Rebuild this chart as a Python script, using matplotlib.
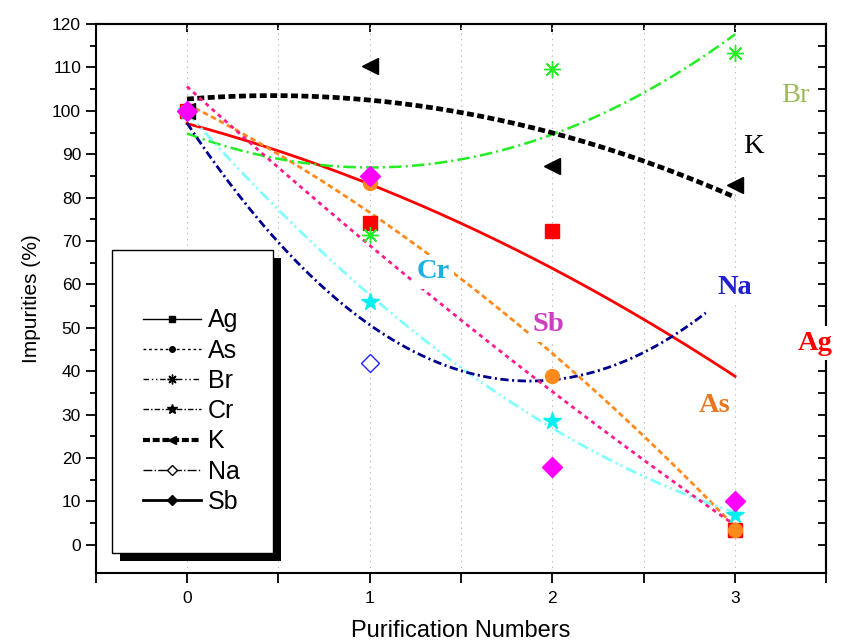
import numpy as np
import matplotlib
matplotlib.use("Agg")
import matplotlib.pyplot as plt
from matplotlib.lines import Line2D
from matplotlib.patches import Rectangle

plt.rcParams['font.family'] = ['Liberation Sans', 'DejaVu Sans']
plt.rcParams['lines.scale_dashes'] = False

runs = [0, 1, 2, 3]

# measured impurity levels (%) after each purification
ag = [100, 74.2, 72.4, 3.5]
as_ = [100, 83.3, 38.9, 3.5]
br = [100, 71.4, 109.7, 113.3]
cr = [100, 56.0, 28.6, 6.9]
k = [100, 110.3, 87.3, 82.9]
na = [100, 41.9]
sb = [100, 85.0, 18.0, 10.1]

# polynomial trend curves, values read at each run
ag_fit = [97.0, 83.3, 63.5, 38.9]
as_fit = [101.6, 76.5, 44.2, 4.1]
br_fit = [94.9, 86.6, 94.9, 117.5]
cr_fit = [99.5, 58.0, 26.5, 7.6]
k_fit = [102.7, 102.5, 94.9, 80.1]
na_fit = [97.2, 50.7, 38.0]
sb_fit = [105.5, 69.3, 35.0, 4.6]

# name, data, fit, fit end, line colour, style, width, marker colour, marker, size
series = [
    ("Ag", ag, ag_fit, 3.0, "#FF0000", "-", 2.0, "#FF0000", "s", 10),
    ("As", as_, as_fit, 3.0, "#FF8A1C", (0, (4, 2.5)), 2.0, "#FF8A1C", "o", 10),
    ("Br", br, br_fit, 3.0, "#22EE22", (0, (9, 3, 1.5, 3)), 1.8, "#22EE22", (8, 2, 0), 12),
    ("Cr", cr, cr_fit, 3.0, "#80FFFF", (0, (8, 3, 1.5, 2.5, 1.5, 3)), 2.0, "#00F0F0", "*", 13),
    ("K", k, k_fit, 3.0, "#000000", (0, (5, 2.5)), 3.4, "#000000", "<", 11),
    ("Na", na, na_fit, 2.84, "#000090", (0, (6, 2.5, 1.5, 2.5)), 2.0, "#2222FF", "D", 9),
    ("Sb", sb, sb_fit, 3.0, "#FF1A8C", (0, (3, 3)), 2.0, "#FF00FF", "D", 10),
]

fig = plt.figure(figsize=(8.49, 6.44), dpi=100)
ax = fig.add_axes([0.1126, 0.1102, 0.8608, 0.8525])

for name, vals, fit, end, lc, ls, lw, mc, mk, ms in series:
    xs = np.arange(len(fit))
    coef = np.polyfit(xs, fit, 2)
    xx = np.linspace(0, end, 200)
    ax.plot(xx, np.polyval(coef, xx), color=lc, ls=ls, lw=lw, zorder=2)

for name, vals, fit, end, lc, ls, lw, mc, mk, ms in series:
    xs = runs[:len(vals)]
    if name == "Na":
        ax.plot(xs, vals, ls="none", marker=mk, ms=ms, mfc="white", mec=mc, mew=1, zorder=3)
    elif name == "Br":
        ax.plot(xs, vals, ls="none", marker=mk, ms=ms, mec=mc, mew=1, zorder=3)
    else:
        ax.plot(xs, vals, ls="none", marker=mk, ms=ms, color=mc, mec=mc, zorder=3)

ax.set_xlim(-0.5, 3.5)
ax.set_ylim(-6.5, 120)
ax.set_xticks(runs)
ax.set_xticks([-0.5, 0.5, 1.5, 2.5, 3.5], minor=True)
ax.set_yticks(range(0, 121, 10))
ax.set_yticks(range(5, 120, 10), minor=True)
ax.tick_params(which="both", direction="out", width=1.3, labelsize=12.5)
ax.tick_params(axis="y", which="major", length=7)
ax.tick_params(axis="y", which="minor", length=4)
ax.tick_params(axis="x", which="both", length=7, pad=6)
ax.grid(axis="x", which="both", ls=(0, (1, 3)), color="#bdbdbd", lw=0.8)
ax.set_axisbelow(True)
for sp in ax.spines.values():
    sp.set_linewidth(1.5)

top = ax.secondary_xaxis("top")
top.set_xticks(runs)
top.set_xticks([0.5, 1.5, 2.5], minor=True)
top.tick_params(which="both", direction="in", labeltop=False, width=1.3)
top.tick_params(which="major", length=6)
top.tick_params(which="minor", length=4)
top.spines["top"].set_linewidth(1.5)

right = ax.secondary_yaxis("right")
right.set_yticks(range(0, 121, 5))
right.tick_params(direction="in", labelright=False, length=6, width=1.3)
right.spines["right"].set_linewidth(1.5)

ax.set_xlabel("Purification Numbers", fontsize=17, labelpad=10)
ax.set_ylabel("Impurities (%)", fontsize=15, labelpad=8)

# element labels next to curves (figure-level so they sit over the frame)
labels = [
    ("Br", 3.33, 103.6, "#9BBB59", "normal"),
    ("K", 3.10, 91.7, "#000000", "normal"),
    ("Cr", 1.35, 62.9, "#1AAFE6", "bold"),
    ("Na", 3.0, 59.2, "#2222CC", "bold"),
    ("Sb", 1.98, 50.7, "#CC3DC2", "bold"),
    ("Ag", 3.44, 46.5, "#FF0000", "bold"),
    ("As", 2.89, 32.2, "#E8761E", "bold"),
]
for txt, x, y, c, w in labels:
    fig.text(x, y, txt, transform=ax.transData, family="Liberation Serif",
             weight=w, fontsize=20.5, color=c, ha="center", va="center",
             bbox=dict(fc="white", ec="none", pad=3))

# legend box with a solid drop shadow
ax.add_patch(Rectangle((0.0334, 0.0218), 0.2203, 0.5519, transform=ax.transAxes,
                       fc="black", ec="none", zorder=5))
ax.add_patch(Rectangle((0.0224, 0.0364), 0.2203, 0.5519, transform=ax.transAxes,
                       fc="white", ec="black", lw=1, zorder=6))

handles = [
    Line2D([], [], color="k", lw=1, marker="s", ms=5),
    Line2D([], [], color="k", lw=1, ls=(0, (2, 2)), marker="o", ms=4),
    Line2D([], [], color="k", lw=1, ls=(0, (4, 2, 1, 2, 1, 2)), marker=(8, 2, 0), ms=7),
    Line2D([], [], color="k", lw=1, ls=(0, (4, 1.5, 1, 1.5)), marker="*", ms=7),
    Line2D([], [], color="k", lw=3, ls=(0, (5, 2)), marker="<", ms=6),
    Line2D([], [], color="k", lw=1, ls="-.", marker="D", ms=5, mfc="white"),
    Line2D([], [], color="k", lw=2, marker="D", ms=5),
]
leg = ax.legend(handles, [s[0] for s in series], loc="center left",
                bbox_to_anchor=(0.0649, 0.295), frameon=False, fontsize=18,
                handlelength=2.3, handletextpad=0.3, labelspacing=0.25,
                borderpad=0, borderaxespad=0)
leg.set_zorder(7)

fig.savefig("out.png", dpi=100)
